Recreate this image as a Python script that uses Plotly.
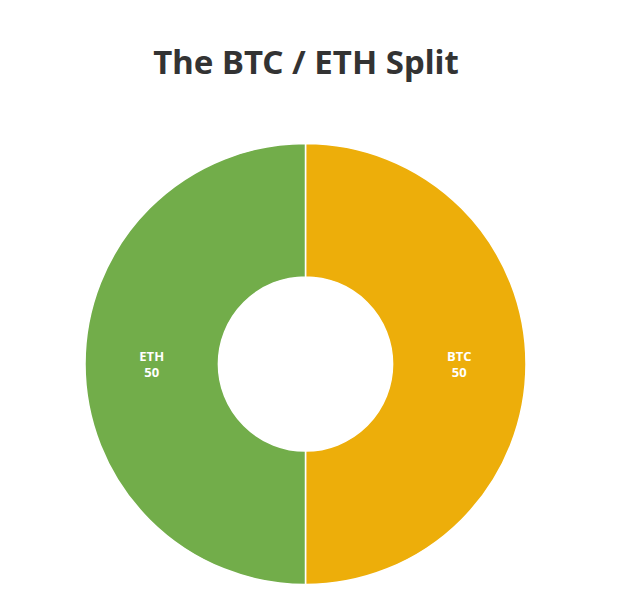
import plotly.graph_objects as go

coins = ["BTC", "ETH"]
shares = [50, 50]
slice_colors = ["#EDAE0A", "#72AD4A"]

fig = go.Figure(go.Pie(
    labels=coins,
    values=shares,
    hole=0.395,
    sort=False,
    direction="clockwise",
    rotation=0,
    marker=dict(colors=slice_colors, line=dict(color="white", width=1.5)),
    textinfo="label+value",
    texttemplate="<b>%{label}<br>%{value}</b>",
    textposition="inside",
    insidetextorientation="horizontal",
    insidetextfont=dict(color="white", size=13, family="Open Sans"),
    showlegend=False,
))

# page body adds ~8px offset, so positions are shifted by that amount
fig.update_layout(
    width=630,
    height=608,
    title=dict(
        text="<b>The BTC / ETH Split</b>",
        x=298 / 630,
        xanchor="center",
        y=1 - 54 / 608,
        yanchor="middle",
        font=dict(size=33, color="#333333", family="Noto Sans"),
    ),
    margin=dict(l=77, r=112, t=135, b=31),
    paper_bgcolor="white",
    plot_bgcolor="white",
)

fig.write_html("out.html")
